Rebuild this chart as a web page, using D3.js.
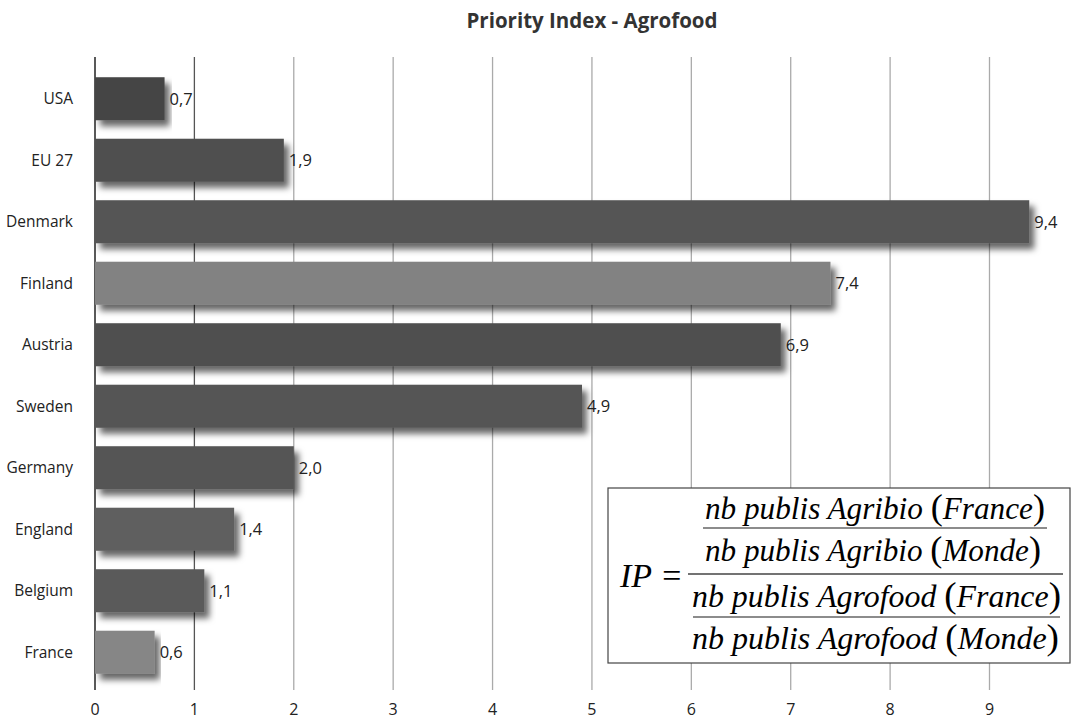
<!DOCTYPE html>
<html>
<head>
<meta charset="utf-8">
<script src="https://cdn.jsdelivr.net/npm/d3@7"></script>
<style>
  body { margin: 0; background: #fff; }
  svg text { font-family: "Open Sans", "Noto Sans", sans-serif; }
</style>
</head>
<body>
<svg id="chart" width="1082" height="722"></svg>
<script>
const countries = ['USA', 'EU 27', 'Denmark', 'Finland', 'Austria', 'Sweden', 'Germany', 'England', 'Belgium', 'France'];
const values = [0.7, 1.9, 9.4, 7.4, 6.9, 4.9, 2.0, 1.4, 1.1, 0.6];
const barColors = ['#454545', '#505050', '#555555', '#828282', '#4f4f4f', '#555555', '#555555', '#5e5e5e', '#5a5a5a', '#868686'];
const ticks = [0, 1, 2, 3, 4, 5, 6, 7, 8, 9];

const LEFT = 95, RIGHT = 1070, TOP = 57, BOTTOM = 690;

const svg = d3.select('#chart');

const defs = svg.append('defs');
const f = defs.append('filter').attr('id', 'shadow')
    .attr('x', '-5%').attr('y', '-20%').attr('width', '115%').attr('height', '170%');
f.append('feDropShadow')
    .attr('dx', 5).attr('dy', 6).attr('stdDeviation', 3)
    .attr('flood-color', '#000').attr('flood-opacity', 0.6);

const x = d3.scaleLinear().domain([0, 9.81]).range([LEFT, RIGHT]);
const y = d3.scaleBand().domain(countries).range([68, 683]).paddingInner(0.3).paddingOuter(0.15);

svg.append('text')
    .attr('x', 592).attr('y', 28)
    .attr('text-anchor', 'middle')
    .style('font-size', '20.5px').style('font-weight', 'bold').style('fill', '#333')
    .text('Priority Index - Agrofood');

// grid
svg.append('g').selectAll('line')
    .data(ticks)
    .enter().append('line')
    .attr('x1', d => x(d)).attr('x2', d => x(d))
    .attr('y1', TOP).attr('y2', BOTTOM)
    .style('stroke', d => d == 0 ? '#222' : (d == 1 ? '#555' : '#aaa'))
    .style('stroke-width', d => d == 0 ? 1.5 : 1.3);

// x labels
svg.append('g').selectAll('text')
    .data(ticks)
    .enter().append('text')
    .attr('x', d => x(d)).attr('y', 715)
    .attr('text-anchor', 'middle')
    .style('font-size', '16px').style('fill', '#222')
    .text(d => d);

// bars
svg.append('g').selectAll('rect')
    .data(values)
    .enter().append('rect')
    .attr('x', x(0))
    .attr('y', (d, i) => y(countries[i]))
    .attr('width', d => x(d) - x(0))
    .attr('height', y.bandwidth())
    .attr('fill', (d, i) => barColors[i])
    .attr('filter', 'url(#shadow)');

// value labels
svg.append('g').selectAll('text')
    .data(values)
    .enter().append('text')
    .attr('x', d => x(d) + 5)
    .attr('y', (d, i) => y(countries[i]) + y.bandwidth() / 2)
    .attr('dy', '0.36em')
    .style('font-size', '16.5px').style('fill', '#222')
    .text(d => d.toFixed(1).replace('.', ','));

// country labels
svg.append('g').selectAll('text')
    .data(countries)
    .enter().append('text')
    .attr('x', 73)
    .attr('y', d => y(d) + y.bandwidth() / 2)
    .attr('dy', '0.36em')
    .attr('text-anchor', 'end')
    .style('font-size', '15.5px').style('fill', '#222')
    .text(d => d);

// formula box
const fb = svg.append('g').attr('transform', 'translate(608,488)');
fb.append('rect').attr('width', 462).attr('height', 175)
    .attr('fill', '#fff').attr('stroke', '#444').attr('stroke-width', 1.2);

const serif = 'font-family: "Liberation Serif", "DejaVu Serif", serif; font-style: italic; fill: #000;';
const lines = [
    ['nb publis Agribio', 'France', 97, 31, 340],
    ['nb publis Agribio', 'Monde', 97, 73, 336],
    ['nb publis Agrofood', 'France', 84, 119, 369],
    ['nb publis Agrofood', 'Monde', 84, 161, 367]
];
lines.forEach(l => {
    const t = fb.append('text').attr('x', l[2]).attr('y', l[3])
        .attr('textLength', l[4]).attr('lengthAdjust', 'spacingAndGlyphs')
        .attr('style', serif + 'font-size: 31px;');
    t.append('tspan').text(l[0] + ' ');
    t.append('tspan').style('font-style', 'normal').style('font-size', '36px').text('(');
    t.append('tspan').text(l[1]);
    t.append('tspan').style('font-style', 'normal').style('font-size', '36px').text(')');
});
fb.append('line').attr('x1', 95).attr('x2', 439).attr('y1', 40).attr('y2', 40).style('stroke', '#666').style('stroke-width', 1.5);
fb.append('line').attr('x1', 80).attr('x2', 455).attr('y1', 86).attr('y2', 86).style('stroke', '#444').style('stroke-width', 1.6);
fb.append('line').attr('x1', 85).attr('x2', 452).attr('y1', 129).attr('y2', 129).style('stroke', '#666').style('stroke-width', 1.5);
fb.append('text').attr('x', 12).attr('y', 99)
    .attr('style', serif + 'font-size: 34px;')
    .text('IP =');
</script>
</body>
</html>
